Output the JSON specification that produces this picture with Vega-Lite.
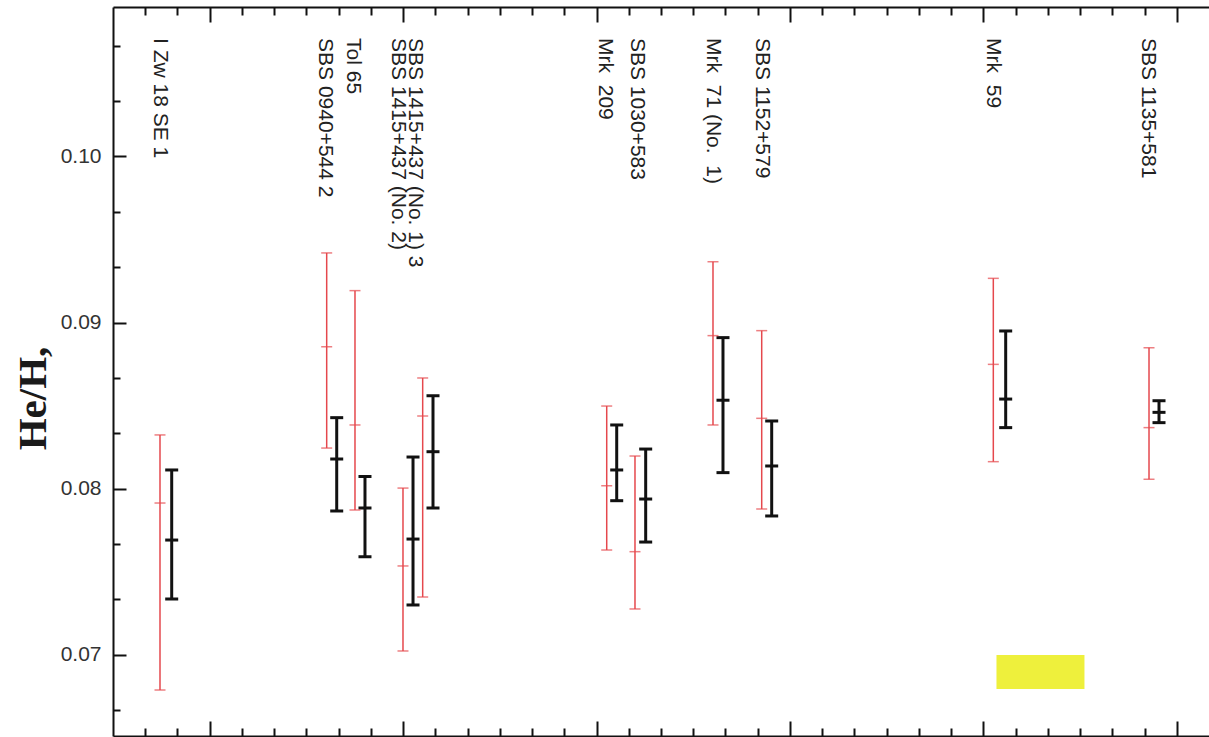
{
  "$schema": "https://vega.github.io/schema/vega-lite/v6.json",
  "width": 1096,
  "height": 729,
  "autosize": {"type": "none"},
  "padding": {"left": 113, "top": 7, "right": 0, "bottom": 1},
  "background": "white",
  "config": {
    "view": {"stroke": null},
    "axis": {"grid": false, "domainColor": "#111111", "domainWidth": 2, "tickColor": "#111111", "tickWidth": 2}
  },
  "datasets": {
    "bars": [
      {"obj": "I Zw 18 SE 1", "series": "AOPS", "x": 1.458, "lo": 0.06787, "mid": 0.07913, "hi": 0.08323},
      {"obj": "I Zw 18 SE 1", "series": "10830 added", "x": 1.821, "lo": 0.07335, "mid": 0.07690, "hi": 0.08112},
      {"obj": "SBS 0940+544", "series": "AOPS", "x": 6.629, "lo": 0.08244, "mid": 0.08854, "hi": 0.09419},
      {"obj": "SBS 0940+544", "series": "10830 added", "x": 6.940, "lo": 0.07865, "mid": 0.08178, "hi": 0.08427},
      {"obj": "Tol 65", "series": "AOPS", "x": 7.507, "lo": 0.07871, "mid": 0.08383, "hi": 0.09192},
      {"obj": "Tol 65", "series": "10830 added", "x": 7.817, "lo": 0.07590, "mid": 0.07883, "hi": 0.08072},
      {"obj": "SBS 1415+437 (No. 2)", "series": "AOPS", "x": 8.996, "lo": 0.07022, "mid": 0.07534, "hi": 0.08003},
      {"obj": "SBS 1415+437 (No. 2)", "series": "10830 added", "x": 9.307, "lo": 0.07299, "mid": 0.07696, "hi": 0.08190},
      {"obj": "SBS 1415+437 (No. 1)", "series": "AOPS", "x": 9.607, "lo": 0.07347, "mid": 0.08437, "hi": 0.08666},
      {"obj": "SBS 1415+437 (No. 1)", "series": "10830 added", "x": 9.927, "lo": 0.07883, "mid": 0.08222, "hi": 0.08559},
      {"obj": "Mrk 209", "series": "AOPS", "x": 15.316, "lo": 0.07630, "mid": 0.08017, "hi": 0.08497},
      {"obj": "Mrk 209", "series": "10830 added", "x": 15.626, "lo": 0.07927, "mid": 0.08112, "hi": 0.08383},
      {"obj": "SBS 1030+583", "series": "AOPS", "x": 16.193, "lo": 0.07275, "mid": 0.07620, "hi": 0.08196},
      {"obj": "SBS 1030+583", "series": "10830 added", "x": 16.525, "lo": 0.07678, "mid": 0.07937, "hi": 0.08238},
      {"obj": "Mrk 71 (No. 1)", "series": "AOPS", "x": 18.613, "lo": 0.08383, "mid": 0.08921, "hi": 0.09366},
      {"obj": "Mrk 71 (No. 1)", "series": "10830 added", "x": 18.923, "lo": 0.08096, "mid": 0.08532, "hi": 0.08909},
      {"obj": "SBS 1152+579", "series": "AOPS", "x": 20.124, "lo": 0.07877, "mid": 0.08423, "hi": 0.08951},
      {"obj": "SBS 1152+579", "series": "10830 added", "x": 20.434, "lo": 0.07835, "mid": 0.08136, "hi": 0.08407},
      {"obj": "Mrk 59", "series": "AOPS", "x": 27.309, "lo": 0.08162, "mid": 0.08748, "hi": 0.09266},
      {"obj": "Mrk 59", "series": "10830 added", "x": 27.693, "lo": 0.08367, "mid": 0.08539, "hi": 0.08949},
      {"obj": "SBS 1135+581", "series": "AOPS", "x": 32.139, "lo": 0.08056, "mid": 0.08367, "hi": 0.08848},
      {"obj": "SBS 1135+581", "series": "10830 added", "x": 32.449, "lo": 0.08397, "mid": 0.08459, "hi": 0.08529}
    ],
    "names": [
      {"label": "I Zw 18 SE 1", "x": 1.458},
      {"label": "SBS 0940+544 2", "x": 6.576},
      {"label": "Tol 65", "x": 7.445},
      {"label": "SBS 1415+437 (No. 2)", "x": 8.841},
      {"label": "SBS 1415+437 (No. 1) 3", "x": 9.369},
      {"label": "Mrk \u00a0209", "x": 15.263},
      {"label": "SBS 1030+583", "x": 16.246},
      {"label": "Mrk \u00a071 (No. \u00a01)", "x": 18.613},
      {"label": "SBS 1152+579", "x": 20.124},
      {"label": "Mrk \u00a059", "x": 27.299},
      {"label": "SBS 1135+581", "x": 32.108}
    ]
  },
  "resolve": {"axis": {"x": "independent"}},
  "layer": [
    {
      "data": {"name": "bars"},
      "transform": [
        {"filter": "datum.series === '10830 added'"},
        {"fold": ["lo", "mid", "hi"], "as": ["end", "v"]}
      ],
      "mark": {"type": "tick", "orient": "horizontal", "thickness": 3, "size": 13},
      "encoding": {
        "x": {"field": "x", "type": "quantitative", "axis": null},
        "y": {"field": "v", "type": "quantitative"},
        "fill": {
          "field": "series", "type": "nominal",
          "scale": {"domain": ["AOPS", "10830 added"], "range": ["#e5484d", "#111111"]},
          "legend": null
        },
        "opacity": {
          "field": "series", "type": "nominal",
          "scale": {"range": [1, 1]},
          "legend": {
            "orient": "none", "legendX": 781, "legendY": 629,
            "title": null,
            "symbolType": "M3.95,-1.33H12.33V1.9H3.95Z", "symbolSize": 441,
            "symbolFillColor": "#eef03c", "symbolStrokeColor": "transparent", "symbolStrokeWidth": 0,
            "symbolOffset": 28, "labelOffset": 29,
            "labelFont": "Liberation Sans", "labelFontSize": 30, "labelLimit": 400,
            "labelExpr": "''",
            "padding": 18,
            "encode": {
              "symbols": {"update": {"fill": {"value": "#eef03c"}, "fillOpacity": {"value": 1}, "stroke": {"value": "transparent"}, "strokeWidth": {"value": 0}}}
            }
          }
        }
      }
    },
    {
      "data": {"name": "bars"},
      "mark": {"type": "rule"},
      "encoding": {
        "x": {
          "field": "x", "type": "quantitative",
          "scale": {"domain": [0, 34], "nice": false, "zero": false},
          "axis": {
            "orient": "bottom", "title": null, "labels": false,
            "values": [1,2,3,4,5,6,7,8,9,10,11,12,13,14,15,16,17,18,19,20,21,22,23,24,25,26,27,28,29,30,31,32,33],
            "tickSize": {"condition": {"test": "datum.value % 6 === 3", "value": -15}, "value": -8}
          }
        },
        "y": {
          "field": "lo", "type": "quantitative",
          "scale": {"domain": [0.0651, 0.109], "nice": false, "zero": false},
          "axis": {
            "title": "He/H,",
            "titleFont": "Liberation Serif", "titleFontWeight": "bold", "titleFontSize": 41, "titleColor": "#1a1a1a",
            "titleAngle": -90, "titleAlign": "center", "titleBaseline": "alphabetic", "titleX": -68, "titleY": 391,
            "values": [0.066667, 0.068333, 0.07, 0.071667, 0.073333, 0.075, 0.076667, 0.078333, 0.08, 0.081667, 0.083333, 0.085, 0.086667, 0.088333, 0.09, 0.091667, 0.093333, 0.095, 0.096667, 0.098333, 0.1, 0.101667, 0.103333, 0.105, 0.106667, 0.108333],
            "tickSize": {"condition": {"test": "abs(datum.value * 100 - round(datum.value * 100)) < 0.01", "value": -13}, "value": -7},
            "labelExpr": "abs(datum.value * 100 - round(datum.value * 100)) < 0.01 ? format(datum.value, '.2f') : ''",
            "labelFont": "Liberation Sans", "labelFontSize": 21, "labelColor": "#333333",
            "labelPadding": 25, "labelOverlap": false, "labelBound": false
          }
        },
        "y2": {"field": "hi"},
        "color": {
          "field": "series", "type": "nominal",
          "scale": {"domain": ["AOPS", "10830 added"], "range": ["#e5484d", "#111111"]},
          "legend": {
            "orient": "none", "legendX": 781, "legendY": 584,
            "title": null,
            "symbolType": "stroke", "symbolSize": 441, "symbolStrokeWidth": 3,
            "symbolOffset": 28, "labelOffset": 29,
            "labelFont": "Liberation Sans", "labelFontSize": 30, "labelColor": "#222222", "labelLimit": 400,
            "padding": 18, "rowPadding": 15,
            "strokeColor": "#999999",
            "encode": {
              "legend": {"update": {"strokeWidth": {"value": 1.5}}},
              "symbols": {"update": {"strokeWidth": {"signal": "datum.value === 'AOPS' ? 2 : 4.5"}}}
            }
          }
        },
        "strokeWidth": {"condition": {"test": "datum.series === 'AOPS'", "value": 1.5}, "value": 3}
      }
    },
    {
      "data": {"name": "bars"},
      "transform": [
        {"filter": "datum.series === 'AOPS'"},
        {"fold": ["lo", "mid", "hi"], "as": ["end", "v"]}
      ],
      "mark": {"type": "tick", "orient": "horizontal", "thickness": 1.5, "size": 11, "color": "#e5484d"},
      "encoding": {
        "x": {"field": "x", "type": "quantitative", "axis": null},
        "y": {"field": "v", "type": "quantitative"}
      }
    },
    {
      "data": {"name": "names"},
      "mark": {"type": "text", "angle": 90, "align": "left", "baseline": "middle", "font": "Liberation Sans", "fontSize": 21, "color": "#222222"},
      "encoding": {
        "x": {
          "field": "x", "type": "quantitative",
          "axis": {
            "orient": "top", "title": null, "labels": false,
            "values": [1,2,3,4,5,6,7,8,9,10,11,12,13,14,15,16,17,18,19,20,21,22,23,24,25,26,27,28,29,30,31,32,33],
            "tickSize": {"condition": {"test": "datum.value % 6 === 3", "value": -15}, "value": -8}
          }
        },
        "y": {"datum": 0.10713},
        "text": {"field": "label"}
      }
    }
  ]
}
